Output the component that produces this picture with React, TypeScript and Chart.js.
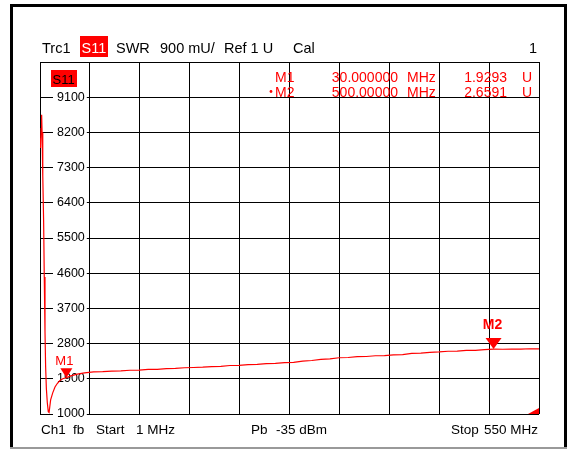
import React, { useEffect, useRef } from 'react';
import { Chart, registerables } from 'chart.js';

Chart.register(...registerables);

// ---- data ----
const freqMHz = [
  1, 1.6, 2.2, 2.8, 3.3, 3.8, 4.3, 5, 5.7, 6.5, 7.2, 8, 9, 10.1, 11, 12.7, 15, 17.5, 20, 23, 26, 30,
  35, 42, 50, 60, 70, 80, 90, 100, 110, 120, 130, 140, 150, 160, 170, 180, 190, 200, 210, 220, 230,
  240, 250, 260, 270, 280, 290, 300, 310, 320, 330, 340, 350, 360, 370, 380, 390, 400, 410, 420,
  430, 440, 450, 460, 470, 480, 490, 500, 510, 520, 530, 540, 550,
];
const swrMilliU = [
  8050, 7800, 8300, 8650, 8200, 7700, 7100, 5900, 4500, 3100, 2200, 1650, 1300, 1060, 1040, 1360,
  1540, 1690, 1780, 1860, 1900, 1929, 1975, 2020, 2050, 2075, 2082, 2098, 2101, 2118, 2124, 2140,
  2142, 2160, 2165, 2182, 2189, 2198, 2213, 2218, 2240, 2243, 2262, 2268, 2290, 2292, 2315, 2322,
  2352, 2368, 2395, 2410, 2438, 2445, 2466, 2470, 2490, 2495, 2512, 2520, 2548, 2555, 2578, 2588,
  2604, 2610, 2625, 2628, 2645, 2659, 2655, 2662, 2660, 2668, 2667,
];
const yTickValues = [1000, 1900, 2800, 3700, 4600, 5500, 6400, 7300, 8200, 9100, 10000];
const yTickLabels = ['1000', '1900', '2800', '3700', '4600', '5500', '6400', '7300', '8200', '9100', ''];
const xStartMHz = 1;
const xStopMHz = 550;
const xDivisions = 10;
const markerNames = ['M1', 'M2'];
const markerFreqs = [30, 500];
const markerValues = [1929.3, 2659.1];
const activeMarker = 1;

const FONT = "'Liberation Sans', Arial, sans-serif";
const RED = '#ff0000';

const decorPlugin = {
  id: 'decor',
  beforeDraw(chart: any) {
    const ctx = chart.ctx as CanvasRenderingContext2D;
    ctx.save();
    ctx.fillStyle = '#ffffff';
    ctx.fillRect(0, 0, chart.width, chart.height);
    // outer frame
    ctx.fillStyle = '#000';
    ctx.fillRect(10, 4, 557, 3);
    ctx.fillRect(10, 4, 3, 444);
    ctx.fillRect(564, 4, 3, 445);
    ctx.fillStyle = '#999';
    ctx.fillRect(10, 447, 557, 2);

    // header
    ctx.textBaseline = 'alphabetic';
    ctx.font = `14.5px ${FONT}`;
    ctx.fillStyle = '#000';
    ctx.textAlign = 'left';
    ctx.fillText('Trc1', 42, 53);
    ctx.fillStyle = RED;
    ctx.fillRect(80, 36, 28, 21);
    ctx.fillStyle = '#fff';
    ctx.fillText('S11', 81.5, 53);
    ctx.fillStyle = '#000';
    ctx.fillText('SWR', 116, 53);
    ctx.fillText('900 mU/', 160, 53);
    ctx.fillText('Ref 1 U', 224, 53);
    ctx.fillText('Cal', 293, 53);
    ctx.textAlign = 'right';
    ctx.fillText('1', 537, 53);

    // footer
    ctx.font = `13.5px ${FONT}`;
    ctx.textAlign = 'left';
    ctx.fillText('Ch1', 41, 434);
    ctx.fillText('fb', 73, 434);
    ctx.fillText('Start', 96, 434);
    ctx.fillText(`${xStartMHz} MHz`, 136, 434);
    ctx.fillText('Pb', 251, 434);
    ctx.fillText('-35 dBm', 276, 434);
    ctx.fillText('Stop', 451, 434);
    ctx.textAlign = 'right';
    ctx.fillText(`${xStopMHz} MHz`, 538, 434);
    ctx.restore();
  },
  afterDatasetsDraw(chart: any) {
    const ctx = chart.ctx as CanvasRenderingContext2D;
    const { left, top, right, bottom } = chart.chartArea;
    const xs = chart.scales.x;
    const ys = chart.scales.y;
    ctx.save();

    // trace label box
    ctx.fillStyle = RED;
    ctx.fillRect(left + 11, top + 8, 26, 17);
    ctx.fillStyle = '#000';
    ctx.font = `13px ${FONT}`;
    ctx.textAlign = 'left';
    ctx.textBaseline = 'alphabetic';
    ctx.fillText('S11', left + 12.5, top + 22);

    // markers
    markerFreqs.forEach((f, i) => {
      const px = xs.getPixelForValue(f);
      const py = ys.getPixelForValue(markerValues[i]);
      const active = i === activeMarker;
      const hw = active ? 8 : 6;
      const h = active ? 11 : 9.5;
      ctx.fillStyle = RED;
      ctx.beginPath();
      ctx.moveTo(px, py);
      ctx.lineTo(px - hw, py - h);
      ctx.lineTo(px + hw, py - h);
      ctx.closePath();
      ctx.fill();
      ctx.textAlign = 'center';
      ctx.font = active ? `bold 14px ${FONT}` : `13px ${FONT}`;
      ctx.fillText(markerNames[i], active ? px - 1 : px - 2, active ? py - 20 : py - 13);
    });

    // marker table
    ctx.font = `14px ${FONT}`;
    ctx.fillStyle = RED;
    markerNames.forEach((name, i) => {
      const by = 81.5 + i * 15;
      ctx.textAlign = 'left';
      ctx.fillText(name, 275, by);
      if (i === activeMarker) {
        ctx.beginPath();
        ctx.arc(271, by - 5, 1.4, 0, Math.PI * 2);
        ctx.fill();
      }
      ctx.textAlign = 'right';
      ctx.fillText(markerFreqs[i].toPrecision(8), 398, by);
      ctx.textAlign = 'left';
      ctx.fillText('MHz', 407, by);
      ctx.textAlign = 'right';
      ctx.fillText((markerValues[i] / 1000).toFixed(4), 507, by);
      ctx.textAlign = 'left';
      ctx.fillText('U', 522, by);
    });

    // off-scale indicator at lower right
    ctx.beginPath();
    ctx.moveTo(right, bottom);
    ctx.lineTo(right, bottom - 6);
    ctx.lineTo(right - 11, bottom);
    ctx.closePath();
    ctx.fill();
    ctx.restore();
  },
};

export default function App() {
  const ref = useRef<HTMLCanvasElement | null>(null);
  useEffect(() => {
    if (!ref.current) return;
    const points = freqMHz.map((f, i) => ({ x: f, y: swrMilliU[i] }));
    const chart = new Chart(ref.current, {
      type: 'line',
      data: {
        datasets: [
          {
            data: points,
            borderColor: RED,
            borderWidth: 1.2,
            pointRadius: 0,
            tension: 0,
            fill: false,
          },
        ],
      },
      options: {
        animation: false,
        responsive: false,
        devicePixelRatio: 1,
        events: [],
        layout: { padding: { left: 40, top: 62, right: 28, bottom: 35 } },
        plugins: { legend: { display: false }, title: { display: false }, tooltip: { enabled: false } },
        scales: {
          x: {
            type: 'linear',
            min: xStartMHz,
            max: xStopMHz,
            afterBuildTicks: (scale: any) => {
              const step = (xStopMHz - xStartMHz) / xDivisions;
              const t = [];
              for (let i = 0; i <= xDivisions; i++) t.push({ value: xStartMHz + i * step });
              scale.ticks = t;
            },
            afterFit: (scale: any) => {
              scale.height = 0;
            },
            ticks: { display: false },
            grid: { color: '#000', lineWidth: 1, drawTicks: false },
            border: { display: false },
          },
          y: {
            type: 'linear',
            min: yTickValues[0],
            max: yTickValues[yTickValues.length - 1],
            afterBuildTicks: (scale: any) => {
              scale.ticks = yTickValues.map((v) => ({ value: v }));
            },
            afterFit: (scale: any) => {
              scale.width = 0;
            },
            ticks: {
              mirror: true,
              crossAlign: 'far',
              padding: 17,
              color: '#000',
              font: { family: FONT, size: 12.5 },
              callback: (_v: any, i: number) => yTickLabels[i],
              showLabelBackdrop: (c: any) => yTickLabels[c.index] !== '',
              backdropColor: '#ffffff',
              backdropPadding: { left: 4, right: 2, top: 0, bottom: 0 },
            },
            grid: { color: '#000', lineWidth: 1, drawTicks: false },
            border: { display: false },
          },
        },
      },
      plugins: [decorPlugin],
    } as any);
    return () => chart.destroy();
  }, []);
  return (
    <div style={{ position: 'absolute', left: 0, top: 0, width: 567, height: 449, background: '#fff' }}>
      <canvas ref={ref} width={567} height={449} style={{ display: 'block' }} />
    </div>
  );
}
